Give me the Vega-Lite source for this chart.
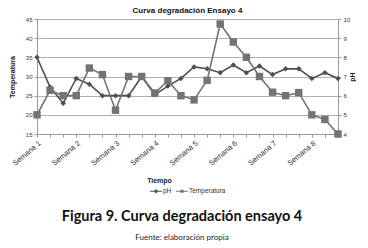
{
  "$schema": "https://vega.github.io/schema/vega-lite/v6.json",
  "background": "white",
  "padding": {"left": 8, "right": 0, "top": 7, "bottom": 2},
  "config": {
    "font": "Liberation Sans",
    "view": {"stroke": null},
    "axis": {
      "labelFont": "Liberation Sans", "labelFontSize": 6, "labelColor": "#333333",
      "titleFont": "Liberation Sans", "titleFontSize": 7, "titleFontWeight": "bold", "titleColor": "#222222",
      "domainColor": "#999999", "tickColor": "#999999", "tickSize": 3, "gridColor": "#b0b0b0", "labelPadding": 2
    },
    "legend": {"layout": {"bottom": {"anchor": "middle"}}},
    "concat": {"spacing": 0}
  },
  "title": {
    "text": "Figura 9. Curva degradación ensayo 4",
    "subtitle": "Fuente: elaboración propia",
    "orient": "bottom", "anchor": "middle",
    "font": "Lato", "fontSize": 14.5, "fontWeight": "bold", "color": "#111111",
    "subtitleFont": "Lato", "subtitleFontSize": 8, "subtitleColor": "#222222",
    "subtitlePadding": 9, "offset": 15
  },
  "vconcat": [
    {
      "title": {"text": "Curva degradación Ensayo 4", "font": "Liberation Sans", "fontSize": 8, "fontWeight": "bold", "color": "#111111", "offset": 1},
      "width": 301,
      "height": 115,
      "data": {
        "values": [
          {"p": 1, "temp": 20, "ph": 8.0},
          {"p": 2, "temp": 26.4, "ph": 6.45},
          {"p": 3, "temp": 25, "ph": 5.6},
          {"p": 4, "temp": 25, "ph": 6.9},
          {"p": 5, "temp": 32.2, "ph": 6.6},
          {"p": 6, "temp": 30.5, "ph": 6.0},
          {"p": 7, "temp": 21.2, "ph": 6.0},
          {"p": 8, "temp": 30, "ph": 6.0},
          {"p": 9, "temp": 30, "ph": 7.0},
          {"p": 10, "temp": 25.7, "ph": 6.05},
          {"p": 11, "temp": 28.9, "ph": 6.5},
          {"p": 12, "temp": 25, "ph": 6.9},
          {"p": 13, "temp": 23.9, "ph": 7.5},
          {"p": 14, "temp": 29, "ph": 7.4},
          {"p": 15, "temp": 43.7, "ph": 7.2},
          {"p": 16, "temp": 39, "ph": 7.6},
          {"p": 17, "temp": 35, "ph": 7.2},
          {"p": 18, "temp": 30, "ph": 7.55},
          {"p": 19, "temp": 25.9, "ph": 7.1},
          {"p": 20, "temp": 25, "ph": 7.4},
          {"p": 21, "temp": 25.8, "ph": 7.4},
          {"p": 22, "temp": 20, "ph": 6.9},
          {"p": 23, "temp": 18.8, "ph": 7.2},
          {"p": 24, "temp": 15, "ph": 6.9}
        ]
      },
      "encoding": {
        "x": {
          "field": "p", "type": "ordinal",
          "scale": {"type": "point", "padding": 0},
          "axis": {
            "title": "Tiempo", "labelAngle": -40, "labelFontSize": 7.5,
            "labelExpr": "datum.value % 3 == 1 ? 'Semana ' + ((datum.value + 2) / 3) : ''",
            "grid": false, "titleX": 122, "titlePadding": 10
          }
        }
      },
      "layer": [
        {
          "encoding": {
            "y": {
              "field": "ph", "type": "quantitative",
              "scale": {"domain": [4, 10]},
              "axis": {"orient": "right", "title": "pH", "titleAngle": 270, "values": [4, 5, 6, 7, 8, 9, 10], "grid": false, "titlePadding": 6}
            }
          },
          "layer": [
            {"mark": {"type": "line", "color": "#4f4f4f", "strokeWidth": 1.6}},
            {"mark": {"type": "point", "filled": true, "size": 30, "opacity": 1, "shape": "diamond", "color": "#4f4f4f"}}
          ]
        },
        {
          "encoding": {
            "y": {
              "field": "temp", "type": "quantitative",
              "scale": {"domain": [15, 45]},
              "axis": {"orient": "left", "title": "Temperatura", "values": [15, 20, 25, 30, 35, 40, 45], "grid": true, "titlePadding": 10}
            }
          },
          "layer": [
            {"mark": {"type": "line", "color": "#737373", "strokeWidth": 1.6}},
            {"mark": {"type": "point", "filled": true, "size": 55, "opacity": 1, "shape": "square", "color": "#737373"}}
          ]
        },
        {
          "transform": [{"filter": "datum.p > 100"}],
          "mark": {"type": "point", "filled": true, "opacity": 1, "size": 140},
          "encoding": {
            "color": {
              "field": "serie", "type": "nominal",
              "scale": {"domain": ["pH", "Temperatura"], "range": ["#4f4f4f", "#737373"]},
              "legend": {
                "title": null, "orient": "bottom", "direction": "horizontal",
                "labelFontSize": 6.5, "labelColor": "#333333", "symbolSize": 140,
                "symbolStrokeWidth": 0, "offset": 1, "columnPadding": 4, "labelOffset": 1
              }
            },
            "shape": {
              "field": "serie", "type": "nominal",
              "scale": {"domain": ["pH", "Temperatura"], "range": ["M-1,-0.1H1V0.1H-1Z M0,-0.38L0.38,0L0,0.38L-0.38,0Z", "M-1,-0.1H1V0.1H-1Z M-0.27,-0.27H0.27V0.27H-0.27Z"]},
              "legend": {
                "title": null, "orient": "bottom", "direction": "horizontal",
                "labelFontSize": 6.5, "labelColor": "#333333", "symbolSize": 140,
                "symbolStrokeWidth": 0, "offset": 1, "columnPadding": 4, "labelOffset": 1
              }
            }
          }
        }
      ],
      "resolve": {"scale": {"y": "independent"}}
    }
  ]
}
